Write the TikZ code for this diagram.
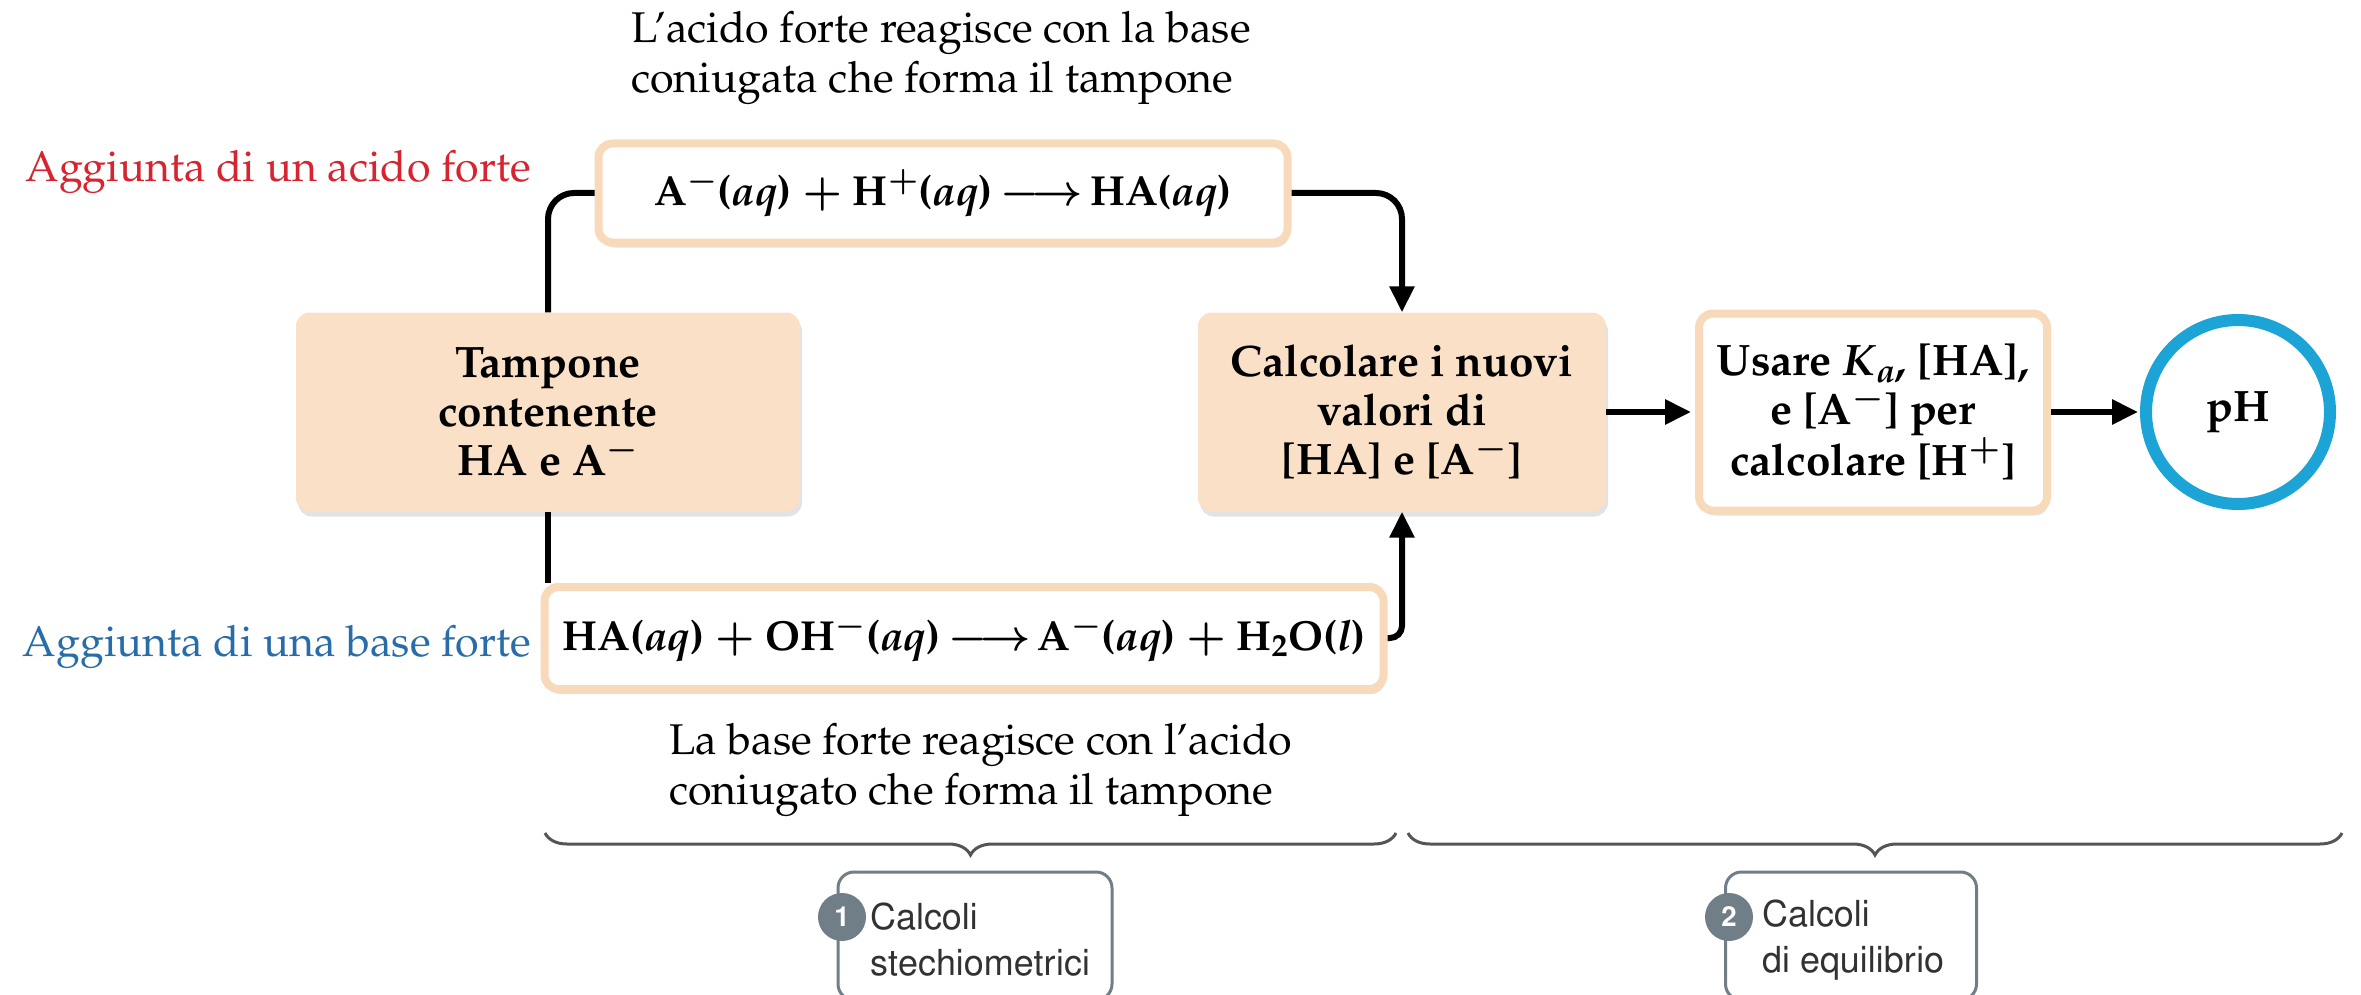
\documentclass[tikz,border=0pt]{standalone}
\usepackage[T1]{fontenc}
\usepackage{mathpazo}
\usepackage[scaled=0.92]{helvet}
\usetikzlibrary{arrows.meta,shadows,decorations.pathreplacing}

\definecolor{peach}{RGB}{250,224,199}
\definecolor{peachline}{RGB}{248,218,186}
\definecolor{acidred}{RGB}{214,37,48}
\definecolor{baseblue}{RGB}{40,108,168}
\definecolor{phblue}{RGB}{28,164,214}
\definecolor{stepgray}{RGB}{112,126,136}
\definecolor{bracegray}{RGB}{85,85,85}
\definecolor{steptextcol}{RGB}{50,50,50}

\newcommand{\boxfont}{\fontsize{44}{49}\selectfont\bfseries\boldmath}
\newcommand{\rxnfont}{\fontsize{42}{49}\selectfont\bfseries\boldmath}
\newcommand{\capfont}{\fontsize{43}{50}\selectfont}
\newcommand{\stepfont}{\fontsize{39}{46}\selectfont\sffamily}

\tikzset{
  peachbox/.style={rounded corners=14pt, fill=peach, draw=none, align=center,
    inner sep=0pt, font=\boxfont,
    drop shadow={opacity=0.22, shadow xshift=2pt, shadow yshift=-5pt}},
  rxnbox/.style={rounded corners=14pt, fill=white, draw=peachline, line width=8pt,
    align=center, inner sep=0pt, font=\boxfont,
    drop shadow={opacity=0.22, shadow xshift=2pt, shadow yshift=-5pt}},
  phring/.style={circle, draw=phblue, line width=12pt, fill=white, inner sep=0pt,
    font=\boxfont},
  caption/.style={font=\capfont, inner sep=0pt, align=left},
  conn/.style={draw=black, line width=6pt},
  arr/.style={conn, -{Triangle[length=26pt,width=24pt]}},
  bracestyle/.style={draw=bracegray, line width=3pt, decorate,
    decoration={brace, mirror, amplitude=22pt}},
  stepbox/.style={draw=stepgray, line width=3pt, rounded corners=16pt, fill=white},
  steptext/.style={font=\stepfont, text=steptextcol, align=left, inner sep=0pt},
  stepnum/.style={circle, fill=stepgray, text=white, inner sep=0pt, minimum size=48pt,
    font=\fontsize{30}{30}\selectfont\sffamily\bfseries}
}

\begin{document}
\begin{tikzpicture}[x=1pt, y=-1pt]
\useasboundingbox (0,0) rectangle (2361,995);
\fill[white] (0,0) rectangle (2361,995);

% boxes of the flow
\node[rxnbox, font=\rxnfont, minimum width=689pt, minimum height=99pt] (acidrxn) at (943,193)
  {A$^{-}$(\textit{aq}) $+$ H$^{+}$(\textit{aq})\,$\longrightarrow$\,HA(\textit{aq})};
\node[peachbox, minimum width=504pt, minimum height=199pt] (buffer) at (548,412)
  {Tampone\\contenente\\HA e A$^{-}$};
\node[peachbox, minimum width=408pt, minimum height=199pt] (newconc) at (1402,412)
  {Calcolare i nuovi\\valori di\\{}[HA] e [A$^{-}$]};
\node[rxnbox, minimum width=348pt, minimum height=197pt] (equil) at (1873,412)
  {Usare $K_a$, [HA],\\e [A$^{-}$] per\\calcolare [H$^{+}$]};
\node[phring, minimum size=184pt] (ph) at (2238,412) {pH};
\node[rxnbox, font=\rxnfont, minimum width=839pt, minimum height=102pt] (baserxn) at (964,638)
  {HA(\textit{aq}) $+$ OH$^{-}$(\textit{aq})\,$\longrightarrow$\,A$^{-}$(\textit{aq}) $+$ H\textsubscript{2}O(\textit{l})};

% side labels and notes
\node[caption, text=acidred, anchor=east] (acidlab) at (531,172) {Aggiunta di un acido forte};
\node[caption, text=baseblue, anchor=east] (baselab) at (531,647) {Aggiunta di una base forte};
\node[caption, anchor=west] (acidnote) at (631,58)
  {L'acido forte reagisce con la base\\coniugata che forma il tampone};
\node[caption, anchor=west] (basenote) at (669,770)
  {La base forte reagisce con l'acido\\coniugato che forma il tampone};

% connectors
\draw[conn, rounded corners=26pt] (acidrxn.west) -| (buffer.north);
\draw[arr, rounded corners=26pt] (acidrxn.east) -| (newconc.north);
\draw[conn] (buffer.south) -- (buffer.south |- baserxn.north);
\draw[arr, rounded corners=12pt] (baserxn.east) -| (newconc.south);
\draw[arr, shorten >=4pt] (newconc.east) -- (equil.west);
\draw[arr, shorten >=2pt] (equil.east) -- (ph.west);

% braces
\coordinate (b1l) at (545,833);
\coordinate (b1r) at (1396,833);
\coordinate (b2l) at (1408,833);
\coordinate (b2r) at (2342,833);
\draw[bracestyle] (b1l) -- (b1r);
\draw[bracestyle] (b2l) -- (b2r);

% step labels
\node[stepbox, minimum width=274pt, minimum height=128pt] (step1) at (975,936) {};
\node[steptext, anchor=west] (step1txt) at (870,940) {Calcoli\\stechiometrici};
\node[stepnum] (num1) at (842,917) {1};
\node[stepbox, minimum width=251pt, minimum height=128pt] (step2) at (1851,936) {};
\node[steptext, anchor=west] (step2txt) at (1762,940) {Calcoli\\di equilibrio};
\node[stepnum] (num2) at (1729,917) {2};
\end{tikzpicture}
\end{document}
